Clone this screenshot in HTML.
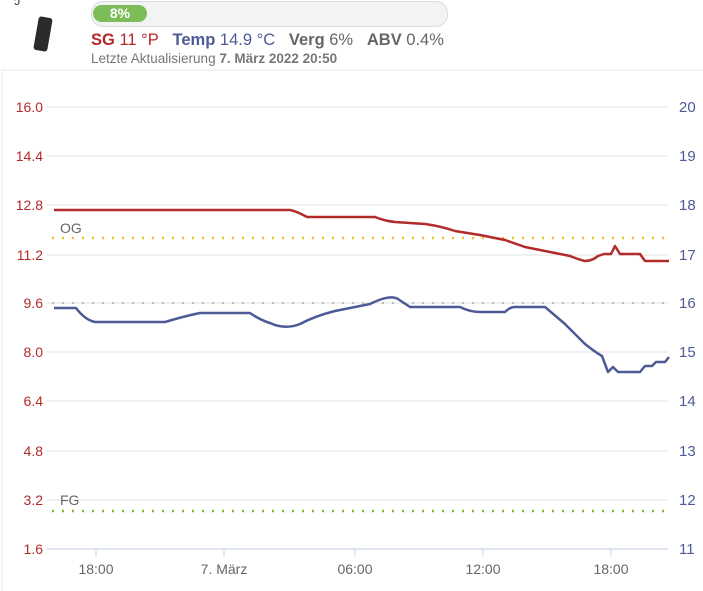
<!DOCTYPE html><html><head><meta charset="utf-8"><style>
body{margin:0;width:703px;height:585px;background:#fff;font-family:"Liberation Sans",sans-serif;overflow:hidden;position:relative}
.t{position:absolute;white-space:nowrap}
</style></head><body>
<div class="t" style="left:14px;top:-6px;font-size:12px;color:#333">ↄ</div>
<div style="position:absolute;left:36px;top:17px;width:14px;height:34px;background:#2b2b2b;border-radius:3px;transform:rotate(10deg)"></div>
<div style="position:absolute;left:91px;top:1px;width:355px;height:24px;border:1px solid #ddd;border-radius:12px;background:#f3f3f3"></div>
<div style="position:absolute;left:93px;top:5px;width:54px;height:17px;background:#7cbd5a;border-radius:9px;color:#fff;font-weight:bold;font-size:14px;text-align:center;line-height:17px">8%</div>
<div class="t" style="left:91px;top:31px;font-size:16.5px;color:#666"><b style="color:#b22a2a">SG</b> <span style="color:#b22a2a">11 °P</span>&nbsp;&nbsp; <b style="color:#4e5a96">Temp</b> <span style="color:#4e5a96">14.9 °C</span>&nbsp;&nbsp; <b>Verg</b> 6%&nbsp;&nbsp; <b>ABV</b> 0.4%</div>
<div class="t" style="left:91px;top:51px;font-size:13.5px;color:#777">Letzte Aktualisierung <b>7. März 2022 20:50</b></div>
<div style="position:absolute;left:2px;top:70px;width:710px;height:520px;border-left:1px solid #eee;border-top:1px solid #eee;box-shadow:0 0 3px #eee"></div>
<svg width="703" height="585" style="position:absolute;left:0;top:0" font-family="Liberation Sans, sans-serif" font-size="14">
<g stroke="#e6e6e6" stroke-width="1.2">
<line x1="47" x2="668" y1="107" y2="107"/><line x1="47" x2="668" y1="156" y2="156"/><line x1="47" x2="668" y1="205" y2="205"/><line x1="47" x2="668" y1="255" y2="255"/><line x1="47" x2="668" y1="303" y2="303"/><line x1="47" x2="668" y1="352" y2="352"/><line x1="47" x2="668" y1="401" y2="401"/><line x1="47" x2="668" y1="451" y2="451"/><line x1="47" x2="668" y1="500" y2="500"/>
</g>
<line x1="47" x2="668" y1="549" y2="549" stroke="#ccd6eb" stroke-width="1.2"/>
<g stroke="#ccd6eb"><line x1="96" x2="96" y1="549" y2="557"/><line x1="224" x2="224" y1="549" y2="557"/><line x1="355" x2="355" y1="549" y2="557"/><line x1="483" x2="483" y1="549" y2="557"/><line x1="611" x2="611" y1="549" y2="557"/></g>
<line x1="52" x2="668" y1="303" y2="303" stroke="#bbb" stroke-width="2" stroke-dasharray="2,8"/>
<line x1="52" x2="668" y1="238" y2="238" stroke="#f2c12e" stroke-width="2.5" stroke-dasharray="2,8"/>
<line x1="52" x2="668" y1="511" y2="511" stroke="#7cbd3a" stroke-width="2.5" stroke-dasharray="2,8"/>
<text x="60" y="233" fill="#666">OG</text><text x="60" y="505" fill="#666">FG</text>
<g fill="#b22a2a" text-anchor="end"><text x="43" y="112">16.0</text><text x="43" y="161">14.4</text><text x="43" y="210">12.8</text><text x="43" y="260">11.2</text><text x="43" y="308">9.6</text><text x="43" y="357">8.0</text><text x="43" y="406">6.4</text><text x="43" y="456">4.8</text><text x="43" y="505">3.2</text><text x="43" y="554">1.6</text></g>
<g fill="#4e5a96" font-size="15"><text x="679" y="112">20</text><text x="679" y="161">19</text><text x="679" y="210">18</text><text x="679" y="260">17</text><text x="679" y="308">16</text><text x="679" y="357">15</text><text x="679" y="406">14</text><text x="679" y="456">13</text><text x="679" y="505">12</text><text x="679" y="554">11</text></g>
<g fill="#666" text-anchor="middle"><text x="96" y="574">18:00</text><text x="224" y="574">7. März</text><text x="355" y="574">06:00</text><text x="483" y="574">12:00</text><text x="611" y="574">18:00</text></g>
<path fill="none" stroke="#b22a2a" stroke-width="2.5" stroke-linejoin="round" d="M54 210 L290 210 Q296 211 307 217 L375 217 Q385 221 395 222 L425 224 Q440 226 455 231 L480 235 Q495 238 505 240 L525 247 L550 252 L570 256 Q580 260 585 261 Q592 261 598 256 L604 254 L611 254 L615 246 L620 254 L640 254 L645 261 L669 261"/>
<path fill="none" stroke="#4e5a96" stroke-width="2.5" stroke-linejoin="round" d="M54 308 L76 308 Q85 320 95 322 L165 322 Q185 316 200 313 L250 313 Q260 320 270 323 Q285 330 300 324 Q315 316 335 311 L370 304 Q390 294 398 299 L410 307 L460 307 Q470 312 480 312 L505 312 Q510 307 515 307 L545 307 L565 324 L585 344 Q595 352 602 356 L608 372 L613 367 L618 372 L640 372 L645 366 L652 366 L656 362 L665 362 L669 357"/>
</svg>
</body></html>
